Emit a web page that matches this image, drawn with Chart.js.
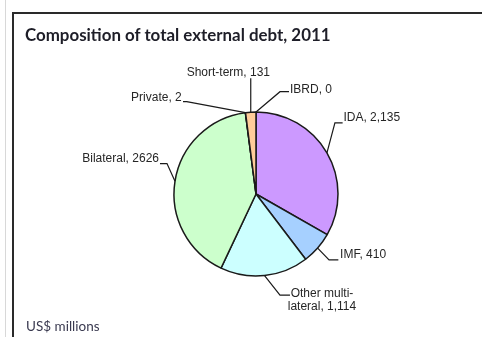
<!DOCTYPE html>
<html>
<head>
<meta charset="utf-8">
<script src="https://cdn.jsdelivr.net/npm/chart.js@4"></script>
<style>
  html, body { margin: 0; padding: 0; background: #fff; width: 482px; height: 337px; overflow: hidden; }
  #gray { position: absolute; left: 5px; top: 0; width: 1px; height: 337px; background: #d8d8d8; }
  #frame { position: absolute; left: 12px; top: 12px; width: 600px; height: 500px; border: 2px solid #2a2a2a; box-sizing: border-box; }
  #title { position: absolute; left: 25px; top: 24px; font: bold 16.9px Lato, sans-serif; color: #1e1e28; white-space: nowrap; }
  #unit { position: absolute; left: 26px; top: 318px; font: 13.5px Lato, sans-serif; color: #3a3a50; white-space: nowrap; }
  #wrap { position: absolute; left: 0; top: 0; width: 482px; height: 337px; }
</style>
</head>
<body>
<div id="gray"></div>
<div id="frame"></div>
<div id="wrap"><canvas id="c" width="482" height="337"></canvas></div>
<div id="title">Composition of total external debt, 2011</div>
<div id="unit">US$ millions</div>
<script>
// ---- data ----
const categories = ["IDA", "IMF", "Other multilateral", "Bilateral", "Private", "Short-term", "IBRD"];
const values = [2135, 410, 1114, 2626, 2, 131, 0];
const labelTexts = [["IDA, 2,135"], ["IMF, 410"], ["Other multi-", "lateral, 1,114"], ["Bilateral, 2626"], ["Private, 2"], ["Short-term, 131"], ["IBRD, 0"]];

// ---- styles / label layout (relative to each slice's outer mid-point) ----
const sliceColors = ["#cc99ff", "#a6d0ff", "#ccffff", "#ccffcc", "#ffcc99", "#ffcc99", "#9999ff"];
const leaderLayout = [
  { elbow: [8, -30],   end: [15.7, -30],  text: [16.5, -34.7], align: "left" },
  { elbow: [11.4, 11.9], end: [20.7, 11.9], text: [22.4, 6.2], align: "left" },
  { elbow: [15.4, 19.5], end: [25.4, 19.5], text: [57.4, 17.8], align: "center", lineGap: 13.4 },
  { elbow: [-8, -17.8], end: [-15, -17.8], text: [-16, -22.3], align: "right" },
  { elbow: [-58.7, -11], end: [-62.4, -11], text: [-63.7, -15.4], align: "right" },
  { elbow: [0, -34],    end: [0, -34],     text: [-22.4, -39.5], align: "center" },
  { elbow: [24, -20.3], end: [33, -20.3],  text: [34, -22.5], align: "left" }
];

const leaderPlugin = {
  id: "leaders",
  afterDatasetsDraw(chart) {
    const ctx = chart.ctx;
    const meta = chart.getDatasetMeta(0);
    ctx.save();
    ctx.strokeStyle = "#1a1a1a";
    ctx.lineWidth = 1.2;
    ctx.fillStyle = "#262626";
    ctx.font = "12px 'Liberation Sans', Arial, sans-serif";
    ctx.textBaseline = "middle";
    meta.data.forEach((arc, i) => {
      const p = arc.getProps(["x", "y", "startAngle", "endAngle", "outerRadius"], true);
      const mid = (p.startAngle + p.endAngle) / 2;
      const ax = p.x + Math.cos(mid) * p.outerRadius;
      const ay = p.y + Math.sin(mid) * p.outerRadius;
      const L = leaderLayout[i];
      ctx.beginPath();
      ctx.moveTo(ax, ay);
      ctx.lineTo(ax + L.elbow[0], ay + L.elbow[1]);
      ctx.lineTo(ax + L.end[0], ay + L.end[1]);
      ctx.stroke();
      ctx.textAlign = L.align;
      labelTexts[i].forEach((t, k) => {
        ctx.fillText(t, ax + L.text[0], ay + L.text[1] + k * (L.lineGap || 0));
      });
    });
    ctx.restore();
  }
};

new Chart(document.getElementById("c"), {
  type: "pie",
  data: {
    labels: categories,
    datasets: [{
      data: values,
      backgroundColor: sliceColors,
      borderColor: "#1a1a1a",
      borderWidth: 1.5
    }]
  },
  options: {
    responsive: false,
    animation: false,
    radius: 82,
    layout: { padding: { left: 100, right: 70, top: 100, bottom: 49 } },
    plugins: { legend: { display: false }, tooltip: { enabled: false }, title: { display: false } }
  },
  plugins: [leaderPlugin]
});
</script>
</body>
</html>
